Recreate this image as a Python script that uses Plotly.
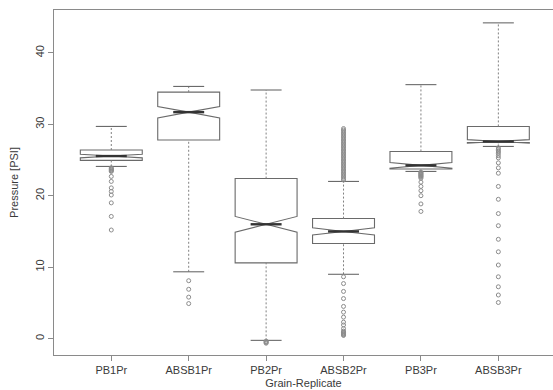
import plotly.graph_objects as go

categories = ["PB1Pr", "ABSB1Pr", "PB2Pr", "ABSB2Pr", "PB3Pr", "ABSB3Pr"]
positions = [1, 2, 3, 4, 5, 6]

upper_whisker = [29.7, 35.3, 34.8, 22.0, 35.55, 44.2]
q3 = [26.4, 34.5, 22.4, 16.8, 26.2, 29.7]
median = [25.55, 31.7, 16.0, 15.0, 24.25, 27.6]
q1 = [24.95, 27.8, 10.6, 13.3, 23.75, 27.45]
lower_whisker = [24.1, 9.35, -0.25, 9.0, 23.4, 26.9]
notch_half = [0.25, 0.8, 1.1, 0.5, 0.4, 0.25]

outliers = {
    "PB1Pr": [23.9, 23.8, 23.7, 23.6, 23.5, 23.4, 22.7, 22.0, 21.1, 20.6, 20.1, 19.0, 17.1, 15.2],
    "ABSB1Pr": [8.1, 6.9, 5.8, 4.9],
    "PB2Pr": [-0.35, -0.45, -0.55, -0.65],
    "ABSB2Pr": [22.2, 22.4, 22.6, 22.8, 23.0, 23.2, 23.4, 23.6, 23.8, 24.0, 24.2, 24.4,
                24.6, 24.8, 25.0, 25.2, 25.4, 25.6, 25.8, 26.0, 26.2, 26.4, 26.6, 26.8,
                27.0, 27.2, 27.4, 27.6, 27.8, 28.0, 28.2, 28.4, 28.6, 28.8, 29.0, 29.2, 29.4,
                8.65, 7.7, 6.6, 5.6, 4.5, 3.7, 3.0, 2.3, 1.9, 1.4, 1.05, 0.9, 0.8, 0.7,
                0.6, 0.5, 0.45],
    "PB3Pr": [23.3, 23.2, 23.1, 23.0, 22.9, 22.8, 22.7, 22.6, 22.45, 21.9, 21.3, 20.7,
              20.0, 18.85, 17.8],
    "ABSB3Pr": [26.7, 26.5, 26.3, 26.1, 25.9, 25.6, 25.3, 24.6, 23.9, 23.15, 21.3, 19.5,
                17.5, 15.8, 13.9, 12.15, 10.3, 8.65, 7.25, 6.1, 5.05],
}

BOX_W = 0.8
BOX_COLOR = "#6a6a6a"
TEXT = "#3a3a3a"
FONT = "Liberation Sans, Arial, sans-serif"

fig = go.Figure()

# boxes (no whiskers; whiskers drawn dashed separately)
fig.add_trace(go.Box(
    x=positions, q1=q1, median=median, q3=q3,
    lowerfence=q1, upperfence=q3, notchspan=notch_half,
    notched=True, notchwidth=0.5, width=BOX_W, whiskerwidth=0,
    fillcolor="white", line=dict(color=BOX_COLOR, width=1.1),
    boxpoints=False, showlegend=False, hoverinfo="skip",
))

# dashed whiskers
wx, wy = [], []
for p, lo, a, b, hi in zip(positions, lower_whisker, q1, q3, upper_whisker):
    wx += [p, p, None, p, p, None]
    wy += [lo, a, None, b, hi, None]
fig.add_trace(go.Scatter(x=wx, y=wy, mode="lines",
                         line=dict(color="#808080", width=1, dash="2px,2px"),
                         showlegend=False, hoverinfo="skip"))

# whisker caps
cx, cy = [], []
cap = BOX_W / 4
for p, lo, hi in zip(positions, lower_whisker, upper_whisker):
    cx += [p - cap, p + cap, None, p - cap, p + cap, None]
    cy += [lo, lo, None, hi, hi, None]
fig.add_trace(go.Scatter(x=cx, y=cy, mode="lines",
                         line=dict(color=BOX_COLOR, width=1.1),
                         showlegend=False, hoverinfo="skip"))

# thick medians
mx, my = [], []
mh = BOX_W / 4
for p, m in zip(positions, median):
    mx += [p - mh, p + mh, None]
    my += [m, m, None]
fig.add_trace(go.Scatter(x=mx, y=my, mode="lines",
                         line=dict(color="#333333", width=2.4),
                         showlegend=False, hoverinfo="skip"))

# outliers
ox, oy = [], []
for p, c in zip(positions, categories):
    for v in outliers[c]:
        ox.append(p)
        oy.append(v)
fig.add_trace(go.Scatter(x=ox, y=oy, mode="markers",
                         marker=dict(symbol="circle-open", size=4,
                                     color="#8c8c8c", line=dict(width=1)),
                         showlegend=False, hoverinfo="skip"))

fig.update_layout(
    width=553, height=390,
    margin=dict(l=54, r=0, t=10, b=35),
    paper_bgcolor="white", plot_bgcolor="white",
    font=dict(family=FONT, size=11, color=TEXT),
    xaxis=dict(
        range=[0.26, 6.706], tickmode="array", tickvals=positions, ticktext=categories,
        showline=True, mirror=True, linecolor="#8a8a8a", linewidth=1,
        ticks="outside", ticklen=5, tickcolor="#8a8a8a",
        showgrid=False, zeroline=False,
        title=dict(text="Grain-Replicate", standoff=4, font=dict(size=11)),
    ),
    yaxis=dict(
        range=[-2.3, 46.0], tickmode="array", tickvals=[0, 10, 20, 30, 40],
        tickangle=-90,
        showline=True, mirror=False, linecolor="#8a8a8a", linewidth=1,
        ticks="outside", ticklen=5, tickcolor="#8a8a8a",
        showgrid=False, zeroline=False,
        title=dict(text="Pressure [PSI]", standoff=12, font=dict(size=11)),
    ),
)

fig.write_html("out.html")
